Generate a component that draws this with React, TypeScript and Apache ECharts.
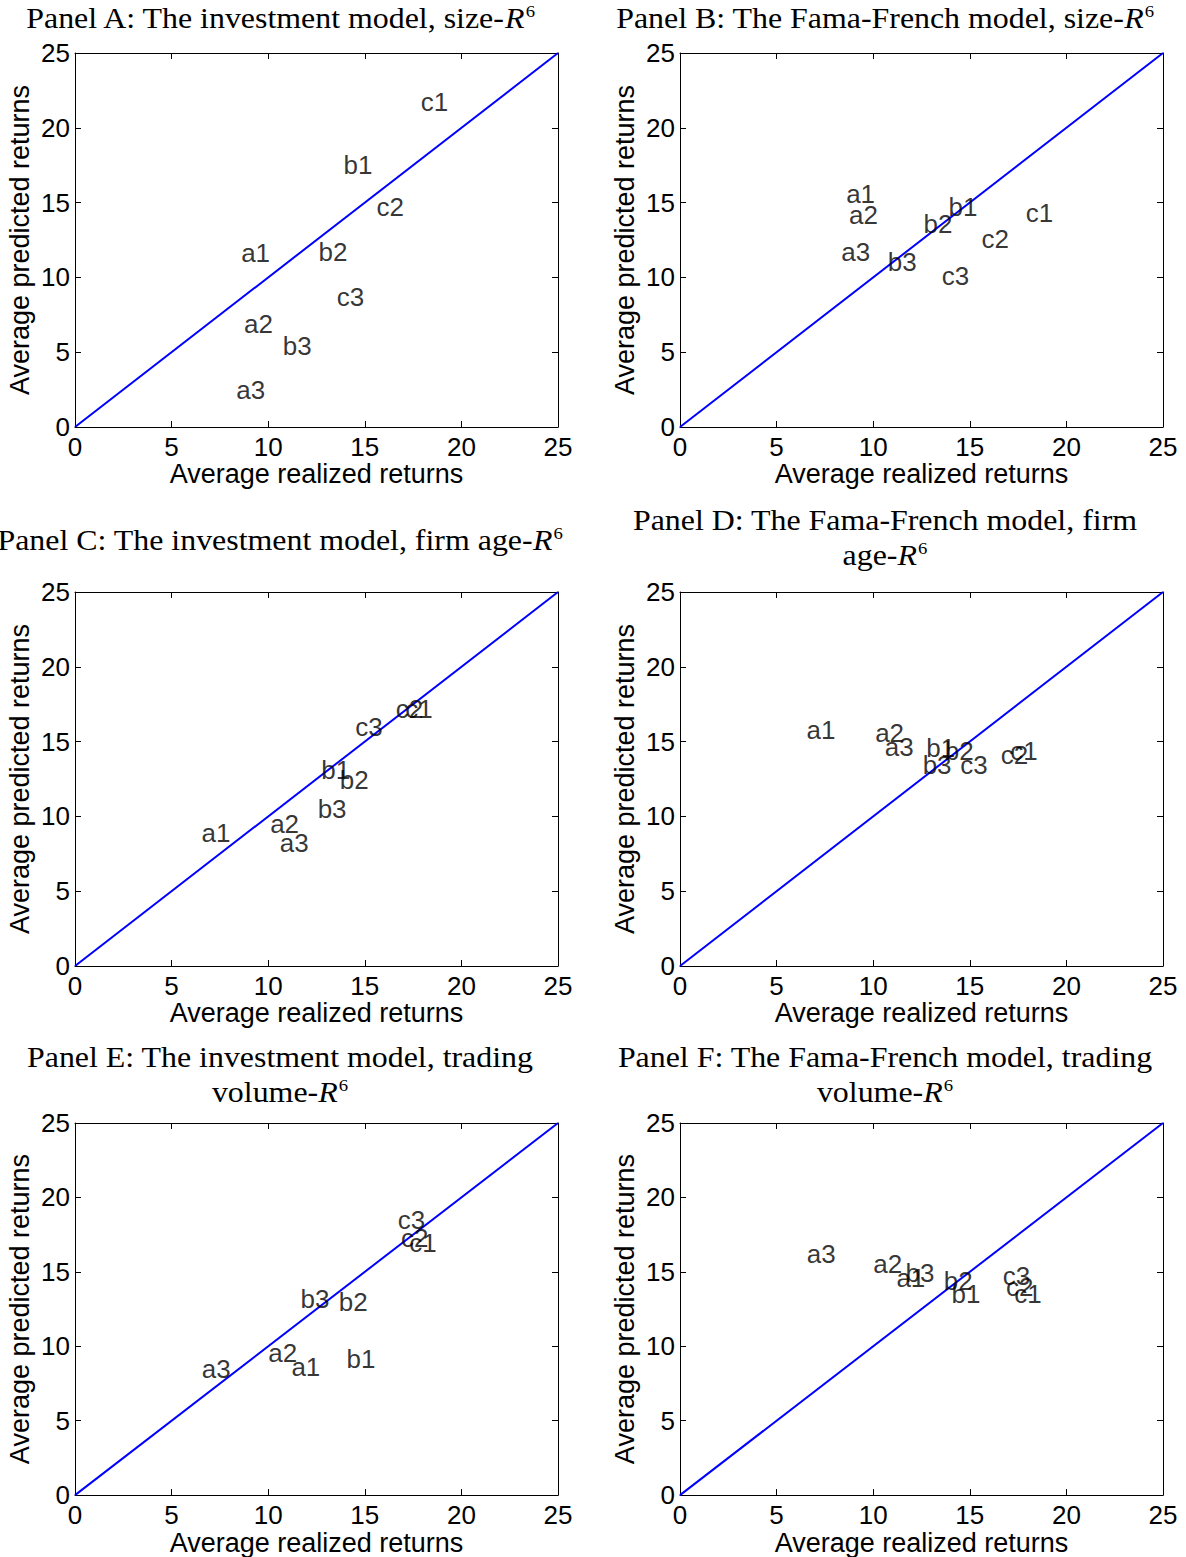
import React, { useEffect, useRef } from "react";
import * as echarts from "echarts";

// Portfolio labels (low / mid / high terciles)
const names = ["a1", "a2", "a3", "b1", "b2", "b3", "c1", "c2", "c3"];

// Average realized returns by sort variable
const realizedSize = [8.6, 8.75, 8.35, 13.9, 12.6, 10.75, 17.9, 15.6, 13.55];
const realizedAge = [6.55, 10.1, 10.6, 12.75, 13.7, 12.56, 17.1, 16.6, 14.5];
const realizedVolume = [11.2, 10.0, 6.56, 14.05, 13.65, 11.67, 17.3, 16.87, 16.7];

// Average predicted returns
const invSize = [11.6, 6.9, 2.5, 17.5, 11.7, 5.4, 21.7, 14.7, 8.7];
const ffSize = [15.6, 14.2, 11.7, 14.7, 13.6, 11.05, 14.3, 12.6, 10.1];
const invAge = [8.9, 9.5, 8.2, 13.1, 12.4, 10.5, 17.2, 17.2, 16.0];
const ffAge = [15.8, 15.55, 14.65, 14.55, 14.35, 13.45, 14.35, 14.1, 13.45];
const invVolume = [8.6, 9.55, 8.5, 9.15, 13.0, 13.2, 16.95, 17.3, 18.5];
const ffVolume = [14.6, 15.5, 16.2, 13.5, 14.4, 14.95, 13.5, 13.95, 14.75];

const panels = [
  { title: ["Panel A: The investment model, size-"], ty: [18], x: realizedSize, y: invSize },
  { title: ["Panel B: The Fama-French model, size-"], ty: [18], x: realizedSize, y: ffSize },
  { title: ["Panel C: The investment model, firm age-"], ty: [540], x: realizedAge, y: invAge },
  { title: ["Panel D: The Fama-French model, firm", "age-"], ty: [520, 555], x: realizedAge, y: ffAge },
  { title: ["Panel E: The investment model, trading", "volume-"], ty: [1057, 1092], x: realizedVolume, y: invVolume },
  { title: ["Panel F: The Fama-French model, trading", "volume-"], ty: [1057, 1092], x: realizedVolume, y: ffVolume },
];

const GRID_LEFT = [75, 680];
const GRID_TOP = [53, 592, 1123];
const GRID_W = 483;
const GRID_H = 374;
const TITLE_CX = [280, 885];
const SANS = "Liberation Sans, Arial, sans-serif";
const SERIF = "Liberation Serif, Times New Roman, serif";

const App: React.FC = () => {
  const ref = useRef<HTMLDivElement>(null);

  useEffect(() => {
    document.body.style.margin = "0";
    if (!ref.current) return;
    const chart = echarts.init(ref.current, undefined, { renderer: "svg" });

    const grid: any[] = [];
    const xAxis: any[] = [];
    const yAxis: any[] = [];
    const series: any[] = [];
    const graphic: any[] = [];

    const baseAxis = {
      type: "value",
      min: 0,
      max: 25,
      interval: 5,
      splitLine: { show: false },
      axisLine: { show: true, onZero: false, lineStyle: { color: "#000", width: 1 } },
      axisTick: { show: true, inside: true, length: 6, lineStyle: { color: "#000" } },
    };

    panels.forEach((p, i) => {
      const col = i % 2;
      const row = Math.floor(i / 2);
      grid.push({
        left: GRID_LEFT[col],
        top: GRID_TOP[row],
        width: GRID_W,
        height: GRID_H,
        containLabel: false,
      });
      const xi = xAxis.length;
      xAxis.push({
        ...baseAxis,
        gridIndex: i,
        position: "bottom",
        name: "Average realized returns",
        nameLocation: "middle",
        nameGap: 31,
        nameTextStyle: { fontFamily: SANS, fontSize: 27, color: "#000" },
        axisLabel: { fontFamily: SANS, fontSize: 26, color: "#000", margin: 7 },
      });
      xAxis.push({ ...baseAxis, gridIndex: i, position: "top", axisLabel: { show: false } });
      const yi = yAxis.length;
      yAxis.push({
        ...baseAxis,
        gridIndex: i,
        position: "left",
        name: "Average predicted returns",
        nameLocation: "middle",
        nameGap: 42,
        nameTextStyle: { fontFamily: SANS, fontSize: 27, color: "#000" },
        axisLabel: { fontFamily: SANS, fontSize: 26, color: "#000", margin: 5 },
      });
      yAxis.push({ ...baseAxis, gridIndex: i, position: "right", axisLabel: { show: false } });

      // 45-degree line
      series.push({
        type: "line",
        xAxisIndex: xi,
        yAxisIndex: yi,
        data: [
          [0, 0],
          [25, 25],
        ],
        symbol: "none",
        lineStyle: { color: "#0000ff", width: 2 },
        silent: true,
        z: 2,
      });
      // portfolio labels
      series.push({
        type: "scatter",
        xAxisIndex: xi,
        yAxisIndex: yi,
        symbolSize: 0,
        data: names.map((n, k) => ({ name: n, value: [p.x[k], p.y[k]] })),
        label: {
          show: true,
          position: "right",
          distance: 0,
          formatter: (d: any) => d.name,
          fontFamily: SANS,
          fontSize: 26,
          color: "#000",
        },
        z: 3,
      });

      // panel title, last line ends with italic R and superscript 6
      p.title.forEach((ln, li) => {
        const isLast = li === p.title.length - 1;
        graphic.push({
          type: "text",
          x: TITLE_CX[col],
          y: p.ty[li],
          scaleX: 1.1,
          style: {
            text: isLast ? `{n|${ln}}{r|R}{s|6}` : `{n|${ln}}`,
            align: "center",
            verticalAlign: "middle",
            rich: {
              n: { fontFamily: SERIF, fontSize: 29, fill: "#000", color: "#000" },
              r: { fontFamily: SERIF, fontSize: 29, fontStyle: "italic", fill: "#000", color: "#000" },
              s: { fontFamily: SERIF, fontSize: 17, fill: "#000", color: "#000", padding: [0, 0, 14, 1] },
            },
          },
        });
      });
    });

    chart.setOption({
      animation: false,
      backgroundColor: "#fff",
      grid,
      xAxis,
      yAxis,
      series,
      graphic,
    });

    return () => chart.dispose();
  }, []);

  return <div ref={ref} style={{ width: 1186, height: 1557 }} />;
};

export default App;
